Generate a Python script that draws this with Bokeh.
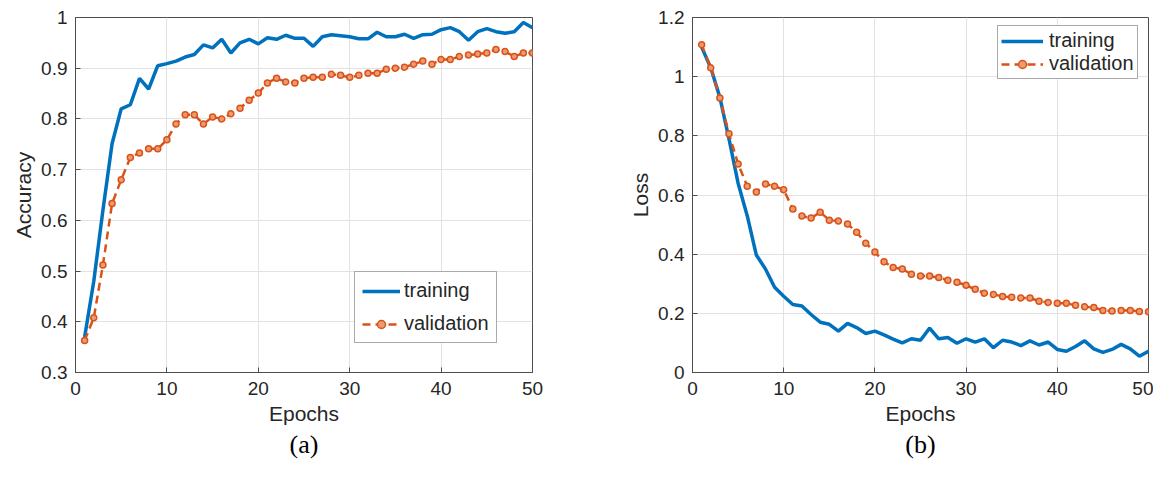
from bokeh.plotting import figure
from bokeh.layouts import row
from bokeh.models import (Range1d, FixedTicker, NumeralTickFormatter,
                          Legend, LegendItem, Title)
from bokeh.embed import file_html
from bokeh.resources import INLINE

# ---------------- data ----------------
epochs = list(range(1, 51))

acc_train = [0.37, 0.48, 0.62, 0.751, 0.82, 0.828, 0.88, 0.859, 0.905, 0.909,
             0.914, 0.922, 0.927, 0.946, 0.94, 0.957, 0.93, 0.95, 0.957, 0.948,
             0.96, 0.957, 0.965, 0.959, 0.959, 0.943, 0.962, 0.966, 0.964, 0.962,
             0.958, 0.958, 0.971, 0.962, 0.962, 0.967, 0.959, 0.966, 0.967, 0.976,
             0.98, 0.972, 0.955, 0.972, 0.978, 0.972, 0.969, 0.972, 0.99, 0.98]

acc_val = [0.363, 0.408, 0.512, 0.633, 0.68, 0.724, 0.733, 0.741, 0.741, 0.759,
           0.79, 0.808, 0.808, 0.79, 0.804, 0.8, 0.81, 0.821, 0.837, 0.851,
           0.871, 0.88, 0.873, 0.871, 0.88, 0.882, 0.882, 0.888, 0.886, 0.882,
           0.886, 0.89, 0.89, 0.898, 0.9, 0.902, 0.908, 0.914, 0.908, 0.917,
           0.917, 0.923, 0.926, 0.928, 0.93, 0.937, 0.933, 0.923, 0.93, 0.93]

loss_train = [1.1, 1.03, 0.93, 0.79, 0.64, 0.53, 0.397, 0.35, 0.288, 0.258,
              0.23, 0.225, 0.196, 0.17, 0.163, 0.14, 0.166, 0.152, 0.132, 0.14,
              0.127, 0.113, 0.1, 0.114, 0.109, 0.15, 0.114, 0.118, 0.099, 0.114,
              0.103, 0.114, 0.084, 0.109, 0.103, 0.091, 0.107, 0.093, 0.103, 0.078,
              0.072, 0.088, 0.107, 0.08, 0.068, 0.078, 0.095, 0.08, 0.055, 0.072]

loss_val = [1.108, 1.03, 0.928, 0.807, 0.705, 0.63, 0.61, 0.637, 0.63, 0.618,
            0.553, 0.529, 0.522, 0.542, 0.515, 0.512, 0.502, 0.474, 0.437, 0.407,
            0.374, 0.355, 0.35, 0.332, 0.326, 0.326, 0.321, 0.312, 0.305, 0.295,
            0.281, 0.268, 0.264, 0.257, 0.254, 0.252, 0.252, 0.241, 0.237, 0.234,
            0.234, 0.227, 0.222, 0.22, 0.21, 0.208, 0.21, 0.21, 0.206, 0.205]

x_ticks = [0, 10, 20, 30, 40, 50]
acc_ticks = [0.3, 0.4, 0.5, 0.6, 0.7, 0.8, 0.9, 1]
loss_ticks = [0, 0.2, 0.4, 0.6, 0.8, 1, 1.2]

series_labels = ["training", "validation"]

BLUE = "#0072BD"
ORANGE = "#D95319"
FONT = "Liberation Sans"
AXCOL = "#4d4d4d"
TXT = "#262626"


def style_axis(ax, ticker):
    ax.ticker = FixedTicker(ticks=ticker)
    ax.formatter = NumeralTickFormatter(format="0.[0]")
    ax.axis_line_color = AXCOL
    ax.axis_line_width = 1
    ax.major_tick_line_color = AXCOL
    ax.major_tick_in = 5
    ax.major_tick_out = 0
    ax.minor_tick_line_color = None
    ax.major_label_text_font = FONT
    ax.major_label_text_color = TXT
    ax.major_label_text_font_size = "19px"


def make_plot(width, left, right, top, ytick_list, y0, y1, ylabel, train, val,
              caption, legend_loc, legend_pad, legend_spacing, glyph_w, standoff):
    p = figure(width=width, height=461, output_backend="svg", toolbar_location=None,
               x_range=Range1d(0, 50), y_range=Range1d(y0, y1),
               min_border_left=left, min_border_right=right,
               min_border_top=top, min_border_bottom=461 - top - 356)
    p.outline_line_color = AXCOL
    p.background_fill_color = "white"
    p.border_fill_color = "white"

    style_axis(p.xaxis[0], x_ticks)
    style_axis(p.yaxis[0], ytick_list)
    p.xaxis[0].major_label_standoff = 9
    p.yaxis[0].major_label_standoff = 8

    p.xaxis.axis_label = "Epochs"
    p.yaxis.axis_label = ylabel
    for ax in (p.xaxis[0], p.yaxis[0]):
        ax.axis_label_text_font = FONT
        ax.axis_label_text_font_size = "21px"
        ax.axis_label_text_font_style = "normal"
        ax.axis_label_text_color = TXT
    p.xaxis[0].axis_label_standoff = 4
    p.yaxis[0].axis_label_standoff = 3

    p.grid.grid_line_color = "#e2e2e2"
    p.grid.grid_line_width = 1
    p.xgrid.ticker = FixedTicker(ticks=x_ticks)
    p.ygrid.ticker = FixedTicker(ticks=ytick_list)

    l_train = p.line(epochs, train, line_color=BLUE, line_width=3.5)
    l_val = p.line(epochs, val, line_color=ORANGE, line_width=2.5, line_dash="8 5")
    s_val = p.scatter(epochs, val, marker="circle", size=6, line_color=ORANGE,
                      fill_color="#eb9a72", line_width=1.5)

    legend = Legend(items=[LegendItem(label=series_labels[0], renderers=[l_train]),
                           LegendItem(label=series_labels[1], renderers=[l_val, s_val])],
                    location=legend_loc)
    legend.label_text_font = FONT
    legend.label_text_font_size = "20px"
    legend.label_text_color = TXT
    legend.glyph_width = glyph_w
    legend.glyph_height = 20
    legend.label_height = 20
    legend.label_standoff = standoff
    legend.padding = legend_pad
    legend.spacing = legend_spacing
    legend.margin = 0
    legend.border_line_color = "#555555"
    legend.border_line_width = 1
    legend.background_fill_color = "white"
    legend.background_fill_alpha = 1
    p.add_layout(legend, "center")

    cap = Title(text=caption, align="center", text_font="Liberation Serif",
                text_font_size="26px", text_font_style="normal", text_color="black",
                offset=0, standoff=0)
    p.add_layout(cap, "below")
    return p


p1 = make_plot(576, 75, 44, 16, acc_ticks, 0.3, 1.0, "Accuracy", acc_train, acc_val,
               "(a)", (279, 29), 7, 10, 38, 4)
p2 = make_plot(577, 116, 5, 17, loss_ticks, 0.0, 1.2, "Loss", loss_train, loss_val,
               "(b)", (305, 293), 3, 0, 42, 6)

layout = row(p1, p2, spacing=0)
open("out.html", "w").write(file_html(layout, INLINE))
